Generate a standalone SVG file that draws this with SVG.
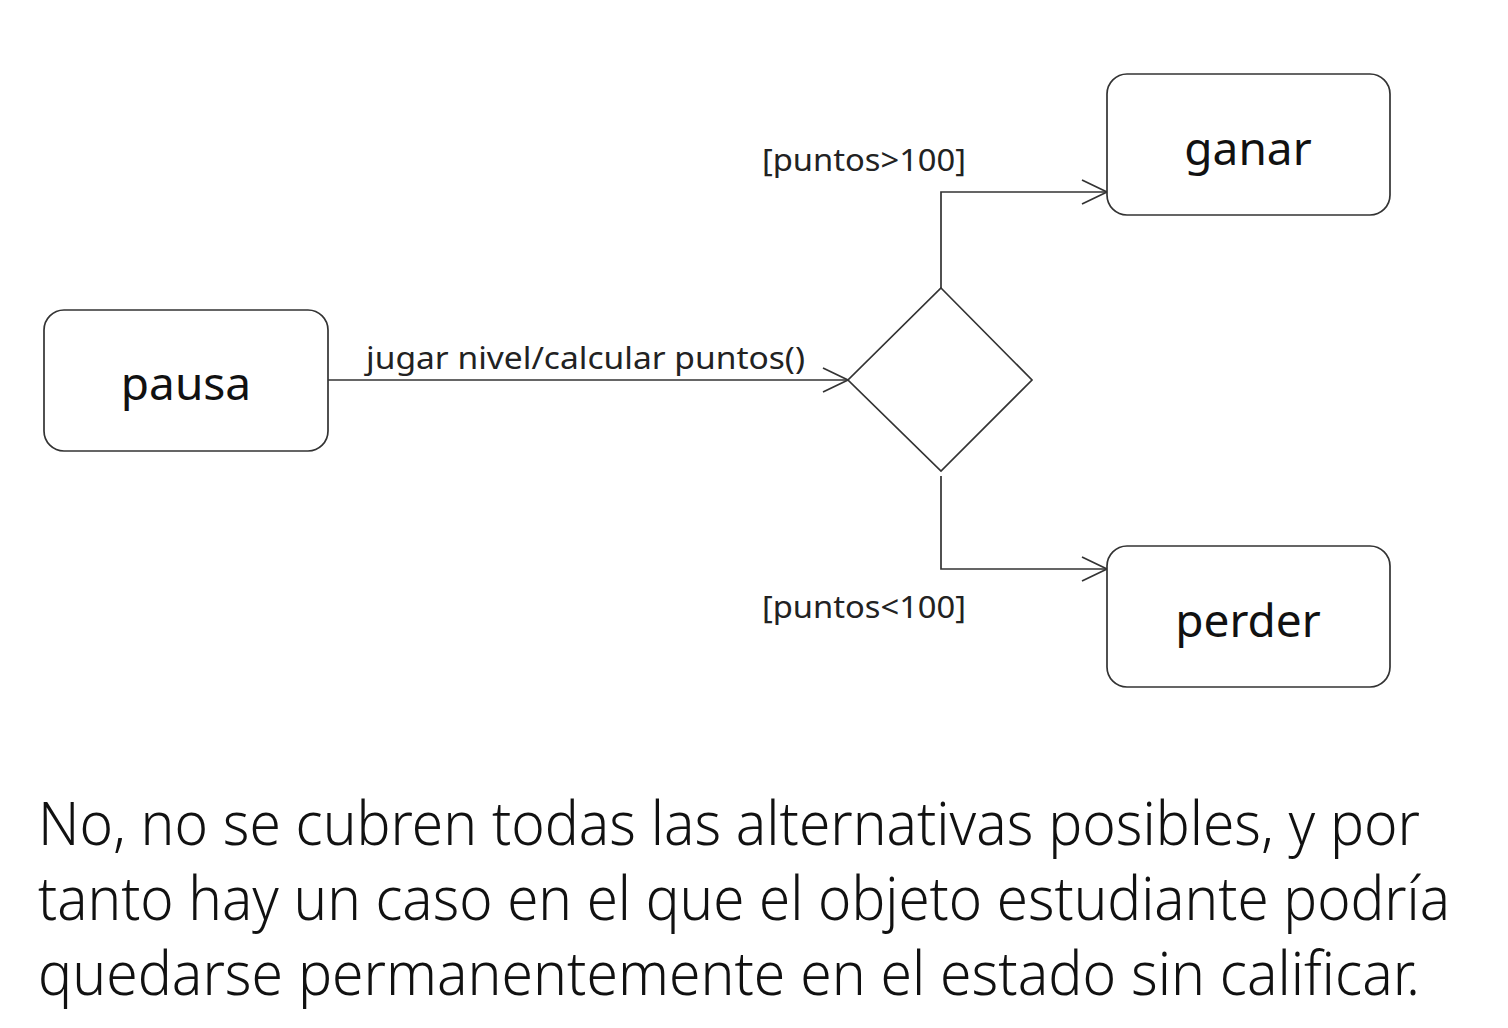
<svg xmlns="http://www.w3.org/2000/svg" width="1508" height="1028" viewBox="0 0 1508 1028">
<style>
.node{fill:#fff;stroke:#333;stroke-width:1.7}
.conn{fill:none;stroke:#333;stroke-width:1.7}
.nt{font-family:"Noto Sans","Open Sans",sans-serif;font-size:46px;fill:#111;text-anchor:middle}
.lb{font-family:"Noto Sans","Open Sans",sans-serif;font-size:30px;fill:#222}
.para{font-family:"Noto Sans","Open Sans",sans-serif;font-weight:300;font-size:60px;fill:#111}
</style>
<defs>
<marker id="open" markerWidth="30" markerHeight="30" refX="26" refY="13" orient="auto" markerUnits="userSpaceOnUse">
<path d="M1,1 L26,13 L1,25" fill="none" stroke="#333" stroke-width="1.7"/>
</marker>
</defs>
<rect width="1508" height="1028" fill="#fff"/>
<g id="connectors">
<path class="conn" d="M328,380 L848,380" marker-end="url(#open)"/>
<path class="conn" d="M941,288 L941,192 L1107,192" marker-end="url(#open)"/>
<path class="conn" d="M941,476 L941,569 L1107,569" marker-end="url(#open)"/>
<text class="lb" x="366" y="369" textLength="439" lengthAdjust="spacingAndGlyphs">jugar nivel/calcular puntos()</text>
<text class="lb" x="762" y="171" textLength="204" lengthAdjust="spacingAndGlyphs">[puntos&gt;100]</text>
<text class="lb" x="762" y="618" textLength="204" lengthAdjust="spacingAndGlyphs">[puntos&lt;100]</text>
</g>
<g id="pausa">
<rect class="node" x="44" y="310" width="284" height="141" rx="20"/>
<text class="nt" x="186" y="400">pausa</text>
</g>
<g id="decision">
<polygon class="node" points="941,288 1032,380 941,471 848,380"/>
</g>
<g id="ganar">
<rect class="node" x="1107" y="74" width="283" height="141" rx="20"/>
<text class="nt" x="1248" y="165">ganar</text>
</g>
<g id="perder">
<rect class="node" x="1107" y="546" width="283" height="141" rx="20"/>
<text class="nt" x="1248" y="637">perder</text>
</g>
<g id="text">
<text class="para" x="38" y="845" textLength="1382" lengthAdjust="spacingAndGlyphs">No, no se cubren todas las alternativas posibles, y por</text>
<text class="para" x="38" y="920" textLength="1412" lengthAdjust="spacingAndGlyphs">tanto hay un caso en el que el objeto estudiante podría</text>
<text class="para" x="38" y="995" textLength="1382" lengthAdjust="spacingAndGlyphs">quedarse permanentemente en el estado sin calificar.</text>
</g>
</svg>
